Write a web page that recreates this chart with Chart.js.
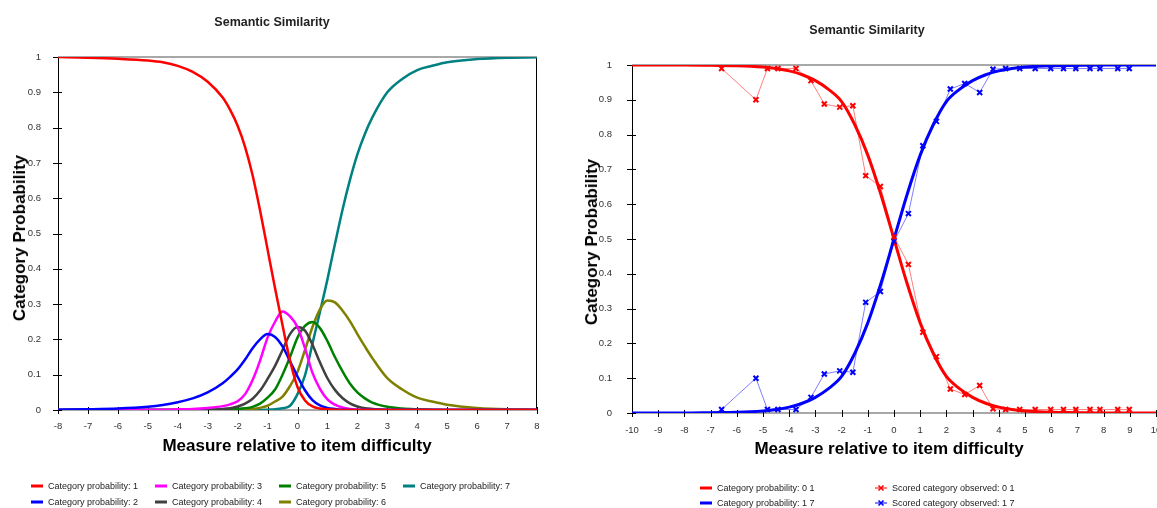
<!DOCTYPE html>
<html>
<head>
<meta charset="utf-8">
<title>Semantic Similarity</title>
<script src="https://cdn.jsdelivr.net/npm/chart.js@4.4.1/dist/chart.umd.min.js"></script>
<style>
  html, body { margin: 0; padding: 0; background: #fff; }
  body { position: relative; width: 1157px; height: 508px; overflow: hidden; font-family: "Liberation Sans", Arial, sans-serif; }
  canvas { position: absolute; top: 0; }
  #leftChart { left: 0; }
  #rightChart { left: 575px; }
  .title { position: absolute; font-weight: bold; font-size: 12.5px; color: #222; white-space: nowrap; transform: translate(-50%, -50%); }
  .axis-title { position: absolute; font-weight: bold; font-size: 17px; color: #000; white-space: nowrap; transform: translate(-50%, -50%); }
  .axis-title.vertical { transform: translate(-50%, -50%) rotate(-90deg); }
  .legend { position: absolute; display: grid; grid-auto-flow: column; font-size: 9px; color: #222; }
  .legend-item { display: flex; align-items: center; white-space: nowrap; }
  .legend-item svg { margin-right: 5px; flex: none; }
</style>
</head>
<body>
<canvas id="leftChart" width="560" height="508"></canvas>
<canvas id="rightChart" width="600" height="508"></canvas>

<div class="title" style="left:272px; top:22px;">Semantic Similarity</div>
<div class="title" style="left:867px; top:30px;">Semantic Similarity</div>
<div class="axis-title" style="left:297px; top:446px;">Measure relative to item difficulty</div>
<div class="axis-title" style="left:889px; top:449px;">Measure relative to item difficulty</div>
<div class="axis-title vertical" style="left:20px; top:238px;">Category Probability</div>
<div class="axis-title vertical" style="left:592px; top:242px;">Category Probability</div>

<div class="legend" id="leftLegend" style="left:31px; top:478px; grid-template-columns: repeat(4, 124px); grid-template-rows: repeat(2, 16px);"></div>
<div class="legend" id="rightLegend" style="left:700px; top:480px; grid-template-columns: repeat(2, 175px); grid-template-rows: repeat(2, 15.5px);"></div>

<script>
// ---- left panel: category probability curves ----
const measureX = [-8, -7, -6, -5, -4.5, -4, -3.5, -3, -2.5, -2.25, -2, -1.75, -1.5, -1.25, -1, -0.75, -0.5, -0.25,
                  0, 0.25, 0.5, 0.75, 1, 1.25, 1.5, 1.75, 2, 2.25, 2.5, 3, 3.5, 4, 4.5, 5, 6, 7, 8];

const cat1 = [1, 0.998, 0.995, 0.99, 0.985, 0.975, 0.958, 0.93, 0.885, 0.85, 0.805, 0.745, 0.665, 0.565, 0.455, 0.345, 0.24, 0.14,
              0.065, 0.027, 0.01, 0.004, 0.002, 0.001, 0, 0, 0, 0, 0, 0, 0, 0, 0, 0, 0, 0, 0];
const cat2 = [0.001, 0.002, 0.004, 0.009, 0.014, 0.022, 0.033, 0.05, 0.076, 0.094, 0.115, 0.143, 0.175, 0.2, 0.215, 0.207, 0.18, 0.138,
              0.095, 0.056, 0.028, 0.013, 0.006, 0.003, 0.001, 0, 0, 0, 0, 0, 0, 0, 0, 0, 0, 0, 0];
const cat3 = [0, 0, 0, 0.001, 0.001, 0.002, 0.003, 0.006, 0.011, 0.016, 0.025, 0.045, 0.085, 0.14, 0.205, 0.25, 0.279, 0.265,
              0.235, 0.175, 0.105, 0.06, 0.03, 0.015, 0.007, 0.003, 0.001, 0, 0, 0, 0, 0, 0, 0, 0, 0, 0];
const cat4 = [0, 0, 0, 0, 0, 0, 0, 0.001, 0.003, 0.005, 0.01, 0.018, 0.032, 0.055, 0.088, 0.125, 0.17, 0.215,
              0.235, 0.225, 0.185, 0.135, 0.09, 0.057, 0.034, 0.019, 0.01, 0.005, 0.003, 0.001, 0, 0, 0, 0, 0, 0, 0];
const cat5 = [0, 0, 0, 0, 0, 0, 0, 0, 0.001, 0.002, 0.003, 0.005, 0.009, 0.018, 0.035, 0.058, 0.1, 0.15,
              0.205, 0.238, 0.249, 0.232, 0.195, 0.15, 0.11, 0.075, 0.05, 0.033, 0.021, 0.009, 0.004, 0.002, 0.001, 0, 0, 0, 0];
const cat6 = [0, 0, 0, 0, 0, 0, 0, 0, 0, 0, 0.001, 0.002, 0.003, 0.006, 0.012, 0.024, 0.038, 0.068,
              0.108, 0.17, 0.235, 0.285, 0.31, 0.305, 0.282, 0.252, 0.215, 0.18, 0.147, 0.09, 0.058, 0.035, 0.024, 0.015, 0.006, 0.002, 0.001];
const cat7 = [0, 0, 0, 0, 0, 0, 0, 0, 0, 0, 0, 0, 0, 0, 0.001, 0.002, 0.005, 0.012,
              0.045, 0.098, 0.188, 0.278, 0.37, 0.47, 0.566, 0.651, 0.724, 0.782, 0.829, 0.9, 0.938, 0.963, 0.975, 0.985, 0.994, 0.998, 0.999];

const categoryNames = ['Category probability: 1', 'Category probability: 2', 'Category probability: 3', 'Category probability: 4',
                       'Category probability: 5', 'Category probability: 6', 'Category probability: 7'];
const categorySeries = [cat1, cat2, cat3, cat4, cat5, cat6, cat7];
const categoryColors = ['#ff0000', '#0000ff', '#ff00ff', '#404040', '#008000', '#808000', '#008080'];

// ---- right panel: expected vs observed ----
const modelX = [-10, -9, -8, -7, -6, -5, -4.5, -4, -3.5, -3, -2.5, -2, -1.5, -1, -0.5, 0,
                0.5, 1, 1.5, 2, 2.5, 3, 3.5, 4, 4.5, 5, 6, 7, 8, 9, 10];
const model01 = [1, 1, 1, 0.999, 0.998, 0.994, 0.99, 0.983, 0.972, 0.955, 0.93, 0.895, 0.829, 0.741, 0.628, 0.5,
                 0.372, 0.259, 0.171, 0.105, 0.07, 0.045, 0.028, 0.017, 0.01, 0.006, 0.002, 0.001, 0, 0, 0];
const model17 = [0, 0, 0, 0.001, 0.002, 0.006, 0.01, 0.017, 0.028, 0.045, 0.07, 0.105, 0.171, 0.259, 0.372, 0.5,
                 0.628, 0.741, 0.829, 0.895, 0.93, 0.955, 0.972, 0.983, 0.99, 0.994, 0.998, 0.999, 1, 1, 1];

const observedX = [-6.58, -5.27, -4.83, -4.43, -3.74, -3.17, -2.66, -2.07, -1.57, -1.08, -0.52, 0, 0.55, 1.1, 1.62,
                   2.15, 2.7, 3.27, 3.78, 4.26, 4.8, 5.39, 5.98, 6.47, 6.94, 7.48, 7.86, 8.54, 8.98];
const observed01 = [0.99, 0.9, 0.99, 0.99, 0.99, 0.955, 0.888, 0.879, 0.883, 0.682, 0.651, 0.507, 0.427, 0.232, 0.162,
                    0.069, 0.053, 0.079, 0.012, 0.01, 0.01, 0.01, 0.01, 0.01, 0.01, 0.01, 0.01, 0.01, 0.01];
const observed17 = [0.01, 0.1, 0.01, 0.01, 0.01, 0.045, 0.112, 0.121, 0.117, 0.318, 0.349, 0.493, 0.573, 0.768, 0.838,
                    0.931, 0.947, 0.921, 0.988, 0.99, 0.99, 0.99, 0.99, 0.99, 0.99, 0.99, 0.99, 0.99, 0.99];

const toPoints = (xs, ys) => xs.map((x, i) => ({ x: x, y: ys[i] }));

// gray rules at 0 and 1, black y axis and tick marks that cross the axes
const axisFrame = {
  id: 'axisFrame',
  beforeDatasetsDraw(chart, args, opts) {
    const { ctx, chartArea: a, scales: { x, y } } = chart;
    ctx.save();
    ctx.lineWidth = 2;
    ctx.strokeStyle = '#a8a8a8';
    ctx.beginPath();
    ctx.moveTo(a.left, a.top); ctx.lineTo(a.right, a.top);
    ctx.moveTo(a.left, a.bottom); ctx.lineTo(a.right, a.bottom);
    ctx.stroke();

    ctx.lineWidth = 1;
    ctx.strokeStyle = '#000';
    ctx.beginPath();
    ctx.moveTo(a.left + 0.5, a.top); ctx.lineTo(a.left + 0.5, a.bottom + 4);
    if (opts.rightEdge) {
      ctx.moveTo(a.right - 0.5, a.top); ctx.lineTo(a.right - 0.5, a.bottom);
    }
    y.ticks.forEach((t, i) => {
      const py = Math.round(y.getPixelForTick(i)) + 0.5;
      ctx.moveTo(a.left - 5, py); ctx.lineTo(a.left + 4, py);
    });
    x.ticks.forEach((t, i) => {
      const px = Math.round(x.getPixelForTick(i)) + 0.5;
      ctx.moveTo(px, a.bottom - 3); ctx.lineTo(px, a.bottom + 4);
    });
    ctx.stroke();
    ctx.restore();
  }
};

const tickFont = { family: '"Liberation Sans", Arial, sans-serif', size: 9.5 };

function axes(xMin, xMax, yWidth, xHeight, xPad, yPad) {
  return {
    x: {
      type: 'linear', min: xMin, max: xMax,
      grid: { display: false }, border: { display: false },
      ticks: { stepSize: 1, color: '#333', font: tickFont, padding: xPad, maxRotation: 0, autoSkip: false },
      afterFit(scale) { scale.height = xHeight; }
    },
    y: {
      type: 'linear', min: 0, max: 1,
      grid: { display: false }, border: { display: false },
      ticks: {
        stepSize: 0.1, color: '#333', font: tickFont, padding: yPad,
        callback: v => String(Math.round(v * 10) / 10)
      },
      afterFit(scale) { scale.width = yWidth; }
    }
  };
}

const leftChart = new Chart(document.getElementById('leftChart'), {
  type: 'line',
  data: {
    datasets: categorySeries.map((series, i) => ({
      label: categoryNames[i],
      data: toPoints(measureX, series),
      borderColor: categoryColors[i],
      backgroundColor: categoryColors[i],
      borderWidth: 2.5,
      pointRadius: 0,
      cubicInterpolationMode: 'monotone',
      fill: false
    }))
  },
  options: {
    responsive: false,
    animation: false,
    devicePixelRatio: 1,
    layout: { padding: { top: 57, right: 23, bottom: 0, left: 0 } },
    scales: axes(-8, 8, 58, 98, 3, 9),
    plugins: { legend: { display: false }, tooltip: { enabled: false }, axisFrame: { rightEdge: true } }
  },
  plugins: [axisFrame]
});

const rightChart = new Chart(document.getElementById('rightChart'), {
  type: 'line',
  data: {
    datasets: [
      { label: 'Scored category observed: 0 1', data: toPoints(observedX, observed01), borderColor: 'rgba(255,0,0,0.5)',
        borderWidth: 1, pointStyle: 'crossRot', pointRadius: 3.5, pointBorderColor: '#ff0000', pointBorderWidth: 2,
        tension: 0, clip: 6, order: 0 },
      { label: 'Scored category observed: 1 7', data: toPoints(observedX, observed17), borderColor: 'rgba(0,0,255,0.5)',
        borderWidth: 1, pointStyle: 'crossRot', pointRadius: 3.5, pointBorderColor: '#0000ff', pointBorderWidth: 2,
        tension: 0, clip: 6, order: 1 },
      { label: 'Category probability: 0 1', data: toPoints(modelX, model01), borderColor: '#ff0000',
        borderWidth: 3, pointRadius: 0, cubicInterpolationMode: 'monotone', order: 2 },
      { label: 'Category probability: 1 7', data: toPoints(modelX, model17), borderColor: '#0000ff',
        borderWidth: 3, pointRadius: 0, cubicInterpolationMode: 'monotone', order: 3 }
    ]
  },
  options: {
    responsive: false,
    animation: false,
    devicePixelRatio: 1,
    layout: { padding: { top: 65, right: 19, bottom: 0, left: 0 } },
    scales: axes(-10, 10, 57, 95, 4, 12),
    plugins: { legend: { display: false }, tooltip: { enabled: false }, axisFrame: { rightEdge: false } }
  },
  plugins: [axisFrame]
});

// html legends, filled column by column
function lineIcon(color, width, cross) {
  let svg = '<svg width="12" height="8" viewBox="0 0 12 8">' +
            '<line x1="0" y1="4" x2="12" y2="4" stroke="' + color + '" stroke-width="' + width + '"/>';
  if (cross) {
    svg += '<path d="M3.5 1.5 L8.5 6.5 M8.5 1.5 L3.5 6.5" stroke="' + color + '" stroke-width="1.6"/>';
  }
  return svg + '</svg>';
}

function buildLegend(el, items) {
  el.innerHTML = items.map(it =>
    '<div class="legend-item">' + lineIcon(it.color, it.width, it.cross) + '<span>' + it.label + '</span></div>'
  ).join('');
}

buildLegend(document.getElementById('leftLegend'),
  leftChart.data.datasets.map(ds => ({ label: ds.label, color: ds.borderColor, width: 3, cross: false })));

const rds = rightChart.data.datasets;
buildLegend(document.getElementById('rightLegend'), [
  { label: rds[2].label, color: '#ff0000', width: 3, cross: false },
  { label: rds[3].label, color: '#0000ff', width: 3, cross: false },
  { label: rds[0].label, color: '#ff0000', width: 1, cross: true },
  { label: rds[1].label, color: '#0000ff', width: 1, cross: true }
]);
</script>
</body>
</html>
